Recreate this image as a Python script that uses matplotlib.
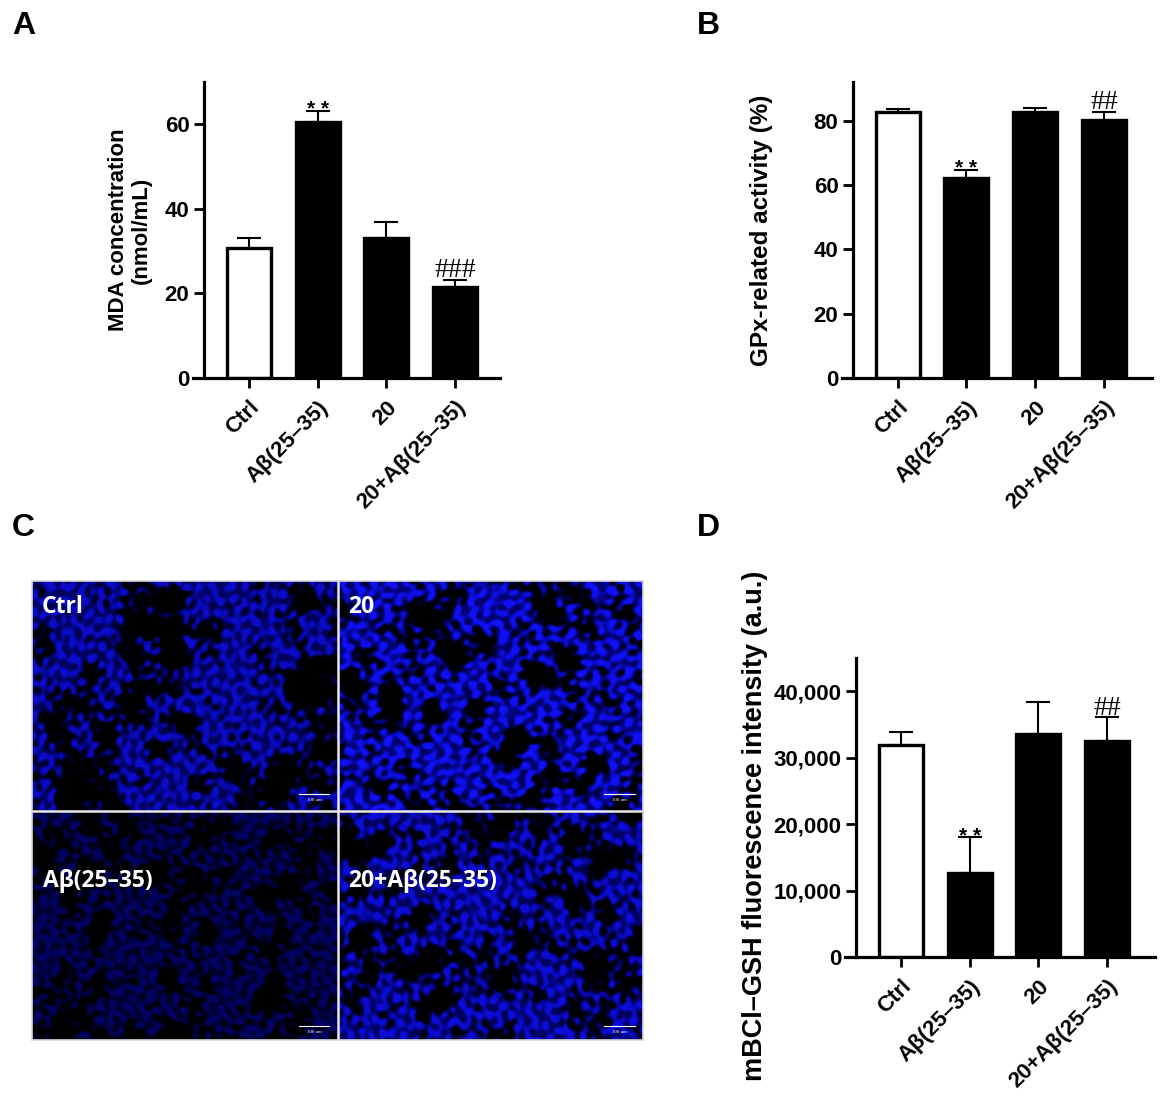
import numpy as np
import matplotlib
matplotlib.use("Agg")
import matplotlib.pyplot as plt

# ---------------- data ----------------
groups = ["Ctrl", "Aβ(25–35)", "20", "20+Aβ(25–35)"]

mda_mean = [30.8, 60.6, 33.1, 21.6]
mda_err = [2.2, 2.6, 3.7, 1.6]
mda_marks = ["", "**", "", "###"]

gpx_mean = [82.7, 62.2, 82.8, 80.3]
gpx_err = [1.0, 2.5, 1.0, 2.5]
gpx_marks = ["", "**", "", "##"]

gsh_mean = [31900, 12700, 33500, 32500]
gsh_err = [1900, 5300, 4900, 3600]
gsh_marks = ["", "**", "", "##"]

image_labels = ["Ctrl", "20", "Aβ(25–35)", "20+Aβ(25–35)"]   # TL, TR, BL, BR
image_brightness = [0.80, 0.98, 0.40, 0.86]

bar_faces = ["white", "black", "black", "black"]

# ---------------- style ----------------
SANS = ["Liberation Sans", "DejaVu Sans"]
plt.rcParams["font.family"] = SANS
plt.rcParams["font.weight"] = "bold"

fig = plt.figure(figsize=(11.65, 11.03), dpi=100)
W, H = 1165.0, 1103.0


def px_axes(left, top, right, bottom):
    return fig.add_axes([left / W, 1 - bottom / H, (right - left) / W, (bottom - top) / H])


def bar_panel(ax, means, errs, marks, ylim, yticks, yticklabels, ylabel,
              label_xy, label_size, xlim):
    x = np.arange(len(groups))
    ax.errorbar(x, means, yerr=[np.zeros(len(errs)), errs], fmt="none",
                ecolor="black", elinewidth=1.5, capsize=8.5, capthick=1.5, zorder=1)
    ax.bar(x, means, width=0.64, color=bar_faces, edgecolor="black",
           linewidth=2.4, zorder=2)
    for xi, m, e, s in zip(x, means, errs, marks):
        if not s:
            continue
        if s.startswith("#"):
            ax.annotate(s, (xi, m + e), xytext=(0, -2.5), textcoords="offset points",
                        ha="center", va="bottom", fontsize=20,
                        family=["Liberation Serif", "DejaVu Serif"], fontweight="normal")
        else:
            ax.annotate("* *", (xi, m + e), xytext=(0, -6), textcoords="offset points",
                        ha="center", va="bottom", fontsize=15, fontweight="bold")
    ax.set_xlim(*xlim)
    ax.set_ylim(*ylim)
    ax.set_yticks(yticks)
    ax.set_yticklabels(yticklabels, fontsize=16, fontweight="bold")
    ax.set_xticks(x)
    ax.set_xticklabels(groups, rotation=45, ha="right", rotation_mode="anchor",
                       fontsize=16, fontweight="bold")
    for sp in ["top", "right"]:
        ax.spines[sp].set_visible(False)
    for sp in ["left", "bottom"]:
        ax.spines[sp].set_linewidth(2.3)
    ax.spines["bottom"].set_bounds(xlim[0] - 0.16, xlim[1])
    ax.tick_params(axis="both", width=2.0, length=7.5, color="black")
    ax.tick_params(axis="x", pad=6)
    ax.tick_params(axis="y", pad=3)
    ax.set_ylabel(ylabel, fontsize=label_size, fontweight="bold", va="center",
                  linespacing=1.1)
    ax.yaxis.set_label_coords(*label_xy)


# Panel A
axA = px_axes(204, 82, 500, 378)
bar_panel(axA, mda_mean, mda_err, mda_marks, (0, 70), [0, 20, 40, 60],
          ["0", "20", "40", "60"], "MDA concentration\n(nmol/mL)",
          (-0.25, 0.5), 16, (-0.65, 3.65))

# Panel B
axB = px_axes(853, 82, 1152, 378)
bar_panel(axB, gpx_mean, gpx_err, gpx_marks, (0, 92), [0, 20, 40, 60, 80],
          ["0", "20", "40", "60", "80"], "GPx-related activity (%)",
          (-0.305, 0.5), 17.5, (-0.65, 3.7))

# Panel D
axD = px_axes(856, 658, 1155, 957)
bar_panel(axD, gsh_mean, gsh_err, gsh_marks, (0, 45000),
          [0, 10000, 20000, 30000, 40000],
          ["0", "10,000", "20,000", "30,000", "40,000"],
          "mBCl–GSH fluorescence intensity (a.u.)",
          (-0.338, 0.44), 19.5, (-0.66, 3.7))

# Panel C : fluorescence micrographs (decorative texture)
axC = px_axes(32, 581, 643, 1040)
h, w = 229, 305


def texture(hh, ww, ph):
    yy, xx = np.mgrid[0:hh, 0:ww].astype(float)
    fine = np.zeros((hh, ww))
    mid = np.zeros((hh, ww))
    coarse = np.zeros((hh, ww))
    for k in range(16):
        a = k * 2.39996 + ph
        fr = 0.38 + 0.07 * (k % 5)
        fine += np.sin(fr * (xx * np.cos(a) + yy * np.sin(a)) + 1.7 * k + ph)
    for k in range(12):
        a = k * 2.39996 + 0.5 * ph + 0.3
        fr = 0.12 + 0.03 * (k % 4)
        mid += np.sin(fr * (xx * np.cos(a) + yy * np.sin(a)) + 2.9 * k + 0.8 * ph)
    for k in range(9):
        a = k * 2.39996 + 0.7 * ph
        fr = 0.035 + 0.015 * (k % 4)
        coarse += np.sin(fr * (xx * np.cos(a) + yy * np.sin(a)) + 2.3 * k + 1.3 * ph)
    fine /= np.sqrt(8.0)
    mid /= np.sqrt(6.0)
    coarse /= np.sqrt(4.5)
    s = 0.55 * fine + 1.0 * mid + 0.9 * coarse + 0.35
    v = 1 / (1 + np.exp(-3.0 * s))
    v = v * (0.72 + 0.28 * np.tanh(1.5 * fine))
    return np.clip(v, 0, 1)


img = np.zeros((2 * h, 2 * w, 3))
for q in range(4):
    r, c = divmod(q, 2)
    v = texture(h, w, 0.9 * q + 0.4) * image_brightness[q]
    blk = np.stack([0.07 * v ** 2, 0.07 * v ** 2, v], axis=-1)
    img[r * h:(r + 1) * h, c * w:(c + 1) * w] = blk

axC.imshow(img, extent=(0, 1, 0, 1), aspect="auto", interpolation="bilinear")
axC.set_xlim(0, 1)
axC.set_ylim(0, 1)
axC.set_xticks([])
axC.set_yticks([])
for sp in axC.spines.values():
    sp.set_color("#d8d8d8")
    sp.set_linewidth(1.2)
axC.axvline(0.5, color="#e8e8e8", lw=1.8)
axC.axhline(0.5, color="#e8e8e8", lw=1.8)

label_pos = [(0.015, 0.930), (0.517, 0.930), (0.018, 0.334), (0.517, 0.334)]
for (lx, ly), t in zip(label_pos, image_labels):
    axC.text(lx, ly, t, color="white", fontsize=16.5, fontweight="bold",
             family=["Open Sans", "DejaVu Sans"], ha="left", va="baseline")

for (bx, by) in [(0.4365, 0.535), (0.9365, 0.535), (0.4365, 0.030), (0.9365, 0.030)]:
    axC.plot([bx, bx + 0.05], [by, by], color="white", lw=0.8)
    axC.text(bx + 0.025, by - 0.008, "100 um", color="white", fontsize=3.5,
             ha="center", va="top", family=["Liberation Serif", "DejaVu Serif"],
             fontweight="normal")

# Panel letters
for t, x, y in [("A", 12, 34), ("B", 697, 34), ("C", 12, 536), ("D", 697, 536)]:
    fig.text(x / W, 1 - y / H, t, fontsize=23, fontweight="bold", ha="left",
             va="baseline")

fig.savefig("out.png", dpi=100)
